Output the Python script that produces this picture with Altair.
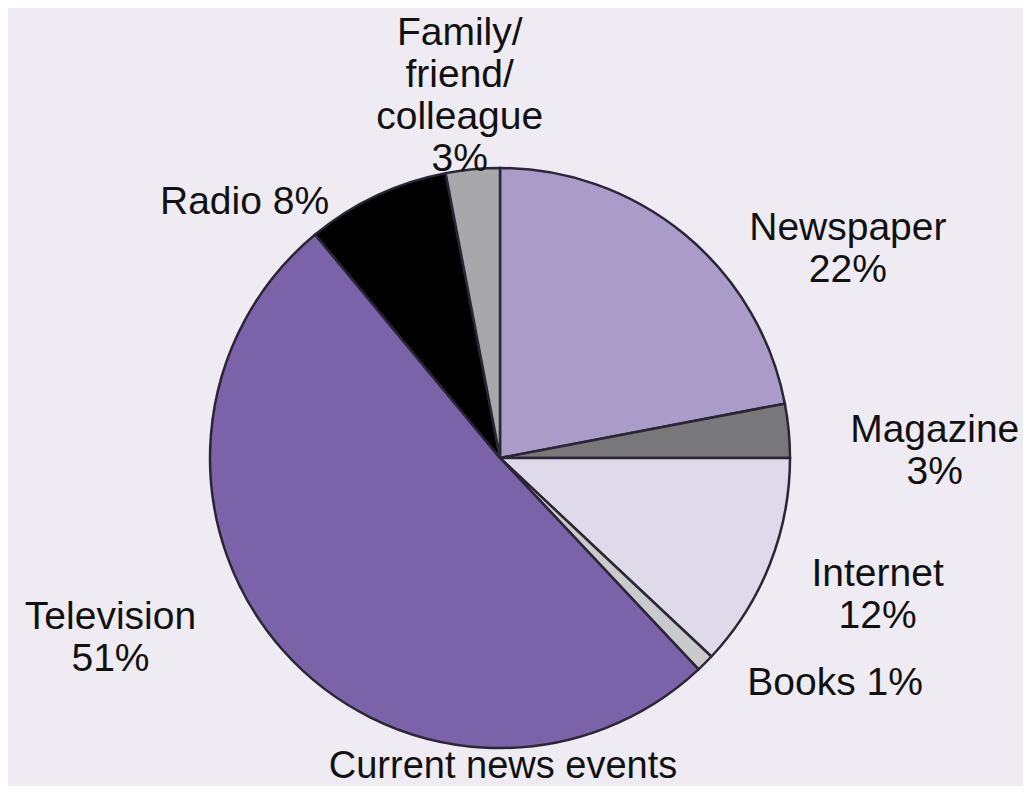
import altair as alt
import pandas as pd

categories = ["Newspaper", "Magazine", "Internet", "Books", "Television", "Radio", "Family/friend/colleague"]
values = [22, 3, 12, 1, 51, 8, 3]
labels = ["Newspaper\n22%", "Magazine\n3%", "Internet\n12%", "Books 1%",
          "Television\n51%", "Radio 8%", "Family/\nfriend/\ncolleague\n3%"]
colors = ["#A99CC8", "#78787B", "#DEDAEA", "#C8CACB", "#7A63A9", "#000000", "#A8A8AB"]
title_text = "Current news events"

df = pd.DataFrame({
    "cat": categories,
    "value": values,
    "label": labels,
    "ord": list(range(len(categories))),
})

W, H = 1015, 778
CX, CY = 492, 450
R = 290
FONT = "Liberation Sans"
FS = 39
LH = 42

# label block-centre offsets from the slice mid-angle point on the rim (style only)
offsets = {
    "Newspaper": (163, 14),
    "Magazine": (146, 20),
    "Internet": (108, 30),
    "Books": (130, 20),
    "Television": (-172, -12),
    "Radio": (-132, 6),
    "Family/friend/colleague": (-13, -73),
}

theta_scale = alt.Scale(domain=[0, 100])
color_scale = alt.Scale(domain=categories, range=colors)

base = alt.Chart(df)

pie = base.mark_arc(stroke="#2a2636", strokeWidth=2.5, radius=R).encode(
    theta=alt.Theta("value:Q", stack=True, scale=theta_scale),
    order=alt.Order("ord:Q"),
    color=alt.Color("cat:N", scale=color_scale, legend=None),
    x=alt.value(CX),
    y=alt.value(CY),
)

stacked = base.transform_stack(
    stack="value", groupby=[], as_=["v0", "v1"], sort=[alt.SortField("ord", order="ascending")]
).transform_calculate(
    mid="(datum.v0 + datum.v1) / 2",
)

label_layers = []
for cat, lab in zip(categories, labels):
    dx, dy = offsets[cat]
    nlines = lab.count("\n") + 1
    dy = dy - (nlines - 1) * LH / 2
    layer = stacked.transform_filter(alt.datum.cat == cat).mark_text(
        font=FONT, fontSize=FS, color="#111111", align="center", baseline="middle",
        lineHeight=LH, lineBreak="\n", dx=dx, dy=dy, radius=R,
    ).encode(
        theta=alt.Theta("mid:Q", scale=theta_scale),
        text=alt.Text("label:N"),
        x=alt.value(CX),
        y=alt.value(CY),
    )
    label_layers.append(layer)

title = alt.Chart(pd.DataFrame({"t": [title_text]})).mark_text(
    font=FONT, fontSize=38, color="#111111", align="center", baseline="alphabetic",
).encode(
    text="t:N",
    x=alt.value(CX + 3),
    y=alt.value(770),
)

chart = alt.layer(pie, *label_layers, title).properties(
    width=W, height=H, background="#EEEBF3", padding=0,
    autosize=alt.AutoSizeParams(type="none"),
).configure_view(stroke=None)

chart.save("out.html", embed_options={"renderer": "svg", "actions": False})
